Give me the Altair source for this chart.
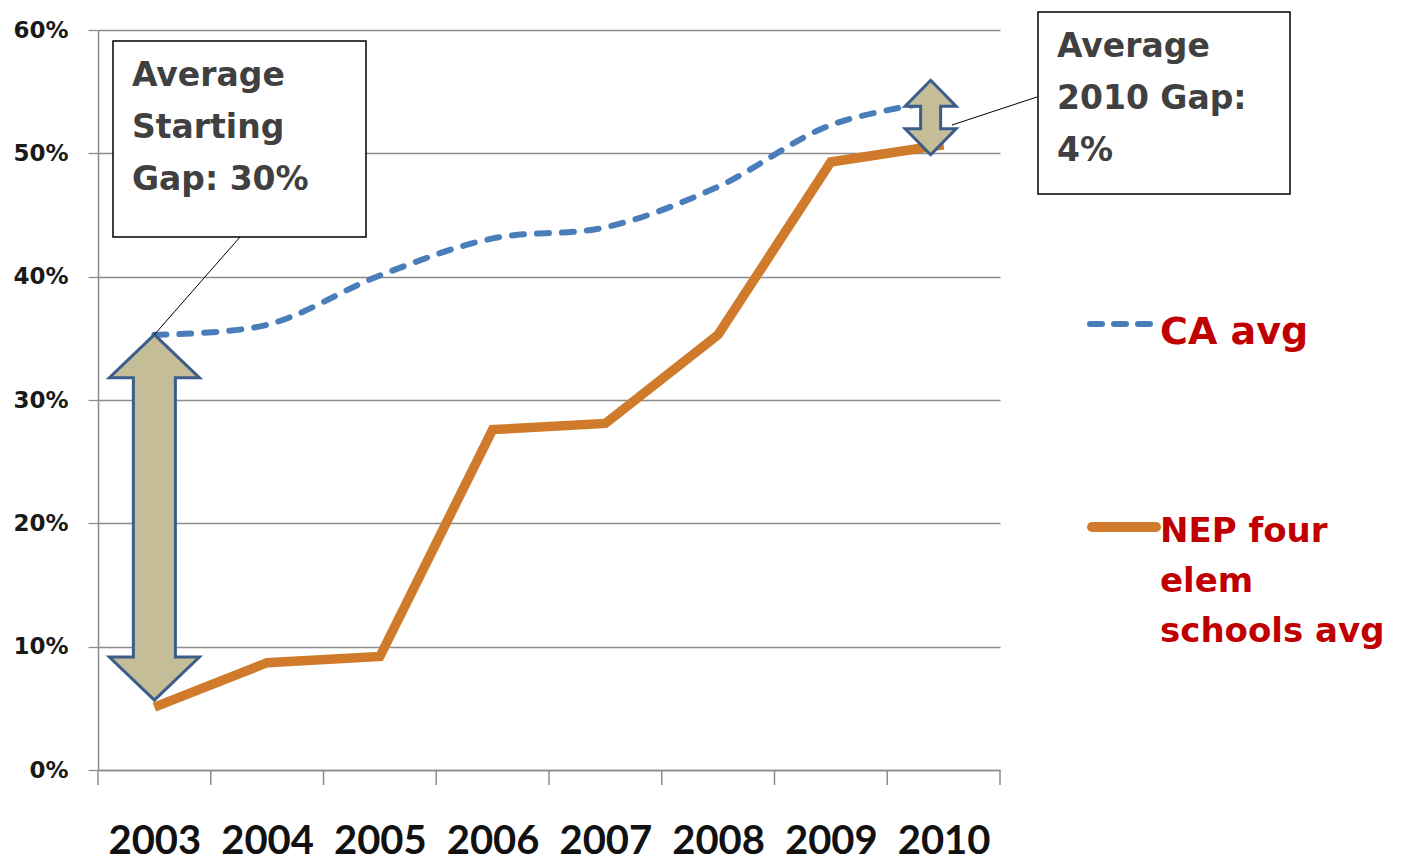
import altair as alt
import pandas as pd

# ---- data ----
years = [2003, 2004, 2005, 2006, 2007, 2008, 2009, 2010]
ca_avg = [0.353, 0.361, 0.401, 0.431, 0.440, 0.473, 0.523, 0.543]
nep_avg = [0.051, 0.087, 0.092, 0.276, 0.281, 0.353, 0.493, 0.507]
y_ticks = [0.0, 0.1, 0.2, 0.3, 0.4, 0.5, 0.6]
box1_text = ["Average", "Starting", "Gap: 30%"]
box2_text = ["Average", "2010 Gap:", "4%"]
legend_ca = "CA avg"
legend_nep = ["NEP four", "elem", "schools avg"]

# ---- styles ----
BLUE = "#4A7EBB"
ORANGE = "#D07B2C"
TAN = "#C4BD97"
ARROW_EDGE = "#3A5D8A"
GRID = "#8c8c8c"
RED = "#C00000"
W, H = 902, 740

df = pd.DataFrame({"year": years, "ca": ca_avg, "nep": nep_avg})
bounds = pd.DataFrame({"b": [y - 0.5 for y in years] + [years[-1] + 0.5]})
one = pd.DataFrame({"k": [0]})

xscale = alt.Scale(domain=[years[0] - 0.5, years[-1] + 0.5], nice=False, zero=False)
yscale = alt.Scale(domain=[0, 0.6], nice=False)

X_AXIS = alt.Axis(values=years, format="d", title=None, grid=False, ticks=False, tickSize=0,
                  labelFont="Lato", labelFontWeight="bold", labelFontSize=40, labelColor="#111111",
                  labelPadding=83, labelBaseline="alphabetic", labelFlush=False, labelOverlap=False,
                  domainColor=GRID, domainWidth=1.5)
Y_AXIS = alt.Axis(values=y_ticks, format=".0%", title=None, grid=True, gridColor=GRID, gridWidth=1.3,
                  tickSize=10, tickColor=GRID, tickWidth=1.3, domainColor=GRID, domainWidth=1.5,
                  labelFont="DejaVu Sans", labelFontWeight="bold", labelFontSize=23,
                  labelColor="#1a1a1a", labelPadding=20)


def xe(field="year"):
    return alt.X(f"{field}:Q", scale=xscale, axis=X_AXIS)


def ye(field):
    return alt.Y(f"{field}:Q", scale=yscale, axis=Y_AXIS)


ca_line = alt.Chart(df).mark_line(
    color=BLUE, strokeWidth=6, strokeDash=[12, 13], strokeCap="round", interpolate="catmull-rom"
).encode(x=xe(), y=ye("ca"))

nep_line = alt.Chart(df).mark_line(color=ORANGE, strokeWidth=9.5).encode(x=xe(), y=ye("nep"))

ticks = alt.Chart(bounds).mark_rule(color=GRID, strokeWidth=1.5).encode(
    x=xe("b"), y=alt.value(H), y2=alt.value(H + 15)
)


def arrow(row_df, r, hh, shaft, dx, top_off, bot_off):
    up_path = f"M0,0L1,{hh / r:.3f}L-1,{hh / r:.3f}Z"
    down_path = f"M0,0L1,{-hh / r:.3f}L-1,{-hh / r:.3f}Z"
    size = (2 * r) ** 2
    c = alt.Chart(row_df)
    outer = c.mark_rule(color=ARROW_EDGE, strokeWidth=shaft, strokeCap="butt", xOffset=dx,
                        yOffset=top_off + hh - 2, y2Offset=bot_off - hh + 2).encode(
        x=xe(), y=ye("ca"), y2="nep:Q")
    up = c.mark_point(shape=up_path, size=size, filled=True, fill=TAN, stroke=ARROW_EDGE,
                      strokeWidth=3, opacity=1, strokeJoin="miter", xOffset=dx, yOffset=top_off).encode(
        x=xe(), y=ye("ca"))
    down = c.mark_point(shape=down_path, size=size, filled=True, fill=TAN, stroke=ARROW_EDGE,
                        strokeWidth=3, opacity=1, strokeJoin="miter", xOffset=dx, yOffset=bot_off).encode(
        x=xe(), y=ye("nep"))
    inner = c.mark_rule(color=TAN, strokeWidth=shaft - 6, strokeCap="butt", xOffset=dx,
                        yOffset=top_off + hh - 3.5, y2Offset=bot_off - hh + 3.5).encode(
        x=xe(), y=ye("ca"), y2="nep:Q")
    return [outer, up, down, inner]


arrow1 = arrow(df.iloc[[0]], r=45, hh=43, shaft=45, dx=0, top_off=0, bot_off=-7)
arrow2 = arrow(df.iloc[[-1]], r=25.5, hh=26, shaft=23, dx=-13, top_off=-20, bot_off=10)

leader1 = alt.Chart(df.iloc[[0]]).mark_rule(color="black", strokeWidth=1).encode(
    x=xe(), y=ye("ca"), x2=alt.value(142), y2=alt.value(207))
leader2 = alt.Chart(one).mark_rule(color="black", strokeWidth=1).encode(
    x=alt.value(854), y=alt.value(95), x2=alt.value(939), y2=alt.value(67))

box_style = dict(fill="white", stroke="black", strokeWidth=1.5)
box1 = alt.Chart(one).mark_rect(**box_style).encode(
    x=alt.value(15), x2=alt.value(268), y=alt.value(11), y2=alt.value(207))
box2 = alt.Chart(one).mark_rect(**box_style).encode(
    x=alt.value(940), x2=alt.value(1192), y=alt.value(-18), y2=alt.value(164))

txt_style = dict(align="left", baseline="alphabetic", lineHeight=52, font="DejaVu Sans",
                 fontWeight="bold", fontSize=33, color="#404040")
box1_t = alt.Chart(one).mark_text(text=box1_text, **txt_style).encode(x=alt.value(34), y=alt.value(56))
box2_t = alt.Chart(one).mark_text(text=box2_text, **txt_style).encode(x=alt.value(959), y=alt.value(27))

leg_ca_line = alt.Chart(one).mark_rule(color=BLUE, strokeWidth=6, strokeDash=[12, 12], strokeCap="round").encode(
    x=alt.value(992), x2=alt.value(1054), y=alt.value(294))
leg_nep_line = alt.Chart(one).mark_rule(color=ORANGE, strokeWidth=10, strokeCap="round").encode(
    x=alt.value(994), x2=alt.value(1058), y=alt.value(497))
leg_style = dict(align="left", baseline="alphabetic", font="DejaVu Sans", fontWeight="bold",
                 color=RED, lineHeight=50)
leg_ca_t = alt.Chart(one).mark_text(text=legend_ca, fontSize=38, **leg_style).encode(
    x=alt.value(1062), y=alt.value(314))
leg_nep_t = alt.Chart(one).mark_text(text=legend_nep, fontSize=34, **leg_style).encode(
    x=alt.value(1062), y=alt.value(512))

chart = alt.layer(
    ca_line, nep_line, ticks, *arrow1, *arrow2, leader1, leader2, box1, box2, box1_t, box2_t,
    leg_ca_line, leg_nep_line, leg_ca_t, leg_nep_t,
).properties(
    width=W, height=H,
    padding={"left": 98, "top": 30, "right": 401, "bottom": 91},
    autosize=alt.AutoSizeParams(type="none"),
    background="white",
).configure_view(stroke=None)

chart.save("out.html", embed_options={"renderer": "svg", "actions": False})
